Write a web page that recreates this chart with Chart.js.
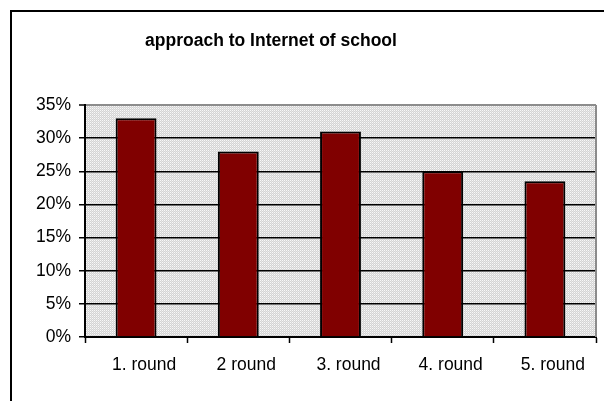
<!DOCTYPE html>
<html>
<head>
<meta charset="utf-8">
<script src="https://cdn.jsdelivr.net/npm/chart.js@4"></script>
<style>
  html, body { margin: 0; padding: 0; background: #fff; overflow: hidden; }
  #wrap { position: relative; width: 604px; height: 401px; }
  #frame { position: absolute; left: 10px; top: 10px; width: 700px; height: 500px; border: 2px solid #000; }
  canvas { position: absolute; left: 0; top: 0; }
</style>
</head>
<body>
<div id="wrap">
  <div id="frame"></div>
  <canvas id="myChart" width="604" height="401"></canvas>
</div>
<script>
const chartTitle = 'approach to Internet of school';
const rounds = ['1. round', '2 round', '3. round', '4. round', '5. round'];
const shares = [33, 28, 31, 25, 23.5];
const yTicks = [0, 5, 10, 15, 20, 25, 30, 35];

const FONT = '"Liberation Sans", Arial, sans-serif';

// dotted grey fill for the plot area
function makePattern(ctx) {
    const c = document.createElement('canvas');
    c.width = 2;
    c.height = 2;
    const p = c.getContext('2d');
    p.fillStyle = '#d4d4d4';
    p.fillRect(0, 0, 2, 2);
    p.fillStyle = '#f8f8f8';
    p.fillRect(0, 0, 1, 1);
    p.fillStyle = '#e4e4e4';
    p.fillRect(1, 1, 1, 1);
    return ctx.createPattern(c, 'repeat');
}

const plotArea = {
    id: 'plotArea',
    beforeDraw(chart) {
        const { ctx, chartArea: a } = chart;
        ctx.save();
        ctx.fillStyle = makePattern(ctx);
        ctx.fillRect(a.left, a.top, a.right - a.left, a.bottom - a.top);
        ctx.restore();
    },
    afterDraw(chart) {
        const { ctx, chartArea: a } = chart;
        ctx.save();
        ctx.strokeStyle = '#8c8c8c';
        ctx.lineWidth = 2;
        ctx.beginPath();
        ctx.moveTo(a.right, a.top);
        ctx.lineTo(a.right, a.bottom);
        ctx.stroke();

        ctx.fillStyle = '#000';
        ctx.font = 'bold 17.5px ' + FONT;
        ctx.textAlign = 'center';
        ctx.textBaseline = 'middle';
        ctx.fillText(chartTitle, 271, 41);
        ctx.restore();
    }
};

const ctx = document.getElementById('myChart').getContext('2d');

new Chart(ctx, {
    type: 'bar',
    data: {
        labels: rounds,
        datasets: [{
            data: shares,
            backgroundColor: '#800000',
            borderColor: '#000',
            borderWidth: 2,
            barPercentage: 0.5,
            categoryPercentage: 0.8
        }]
    },
    options: {
        responsive: false,
        animation: false,
        layout: { padding: { left: 0, top: 105, right: 8, bottom: 0 } },
        plugins: {
            legend: { display: false },
            tooltip: { enabled: false },
            title: { display: false }
        },
        scales: {
            x: {
                grid: {
                    drawOnChartArea: false,
                    drawTicks: true,
                    tickLength: 6,
                    tickColor: '#000',
                    tickWidth: 1.5
                },
                border: { color: '#000', width: 2 },
                ticks: {
                    color: '#000',
                    font: { family: FONT, size: 17.5 },
                    padding: 12,
                    labelOffset: 8,
                    maxRotation: 0
                },
                afterFit(scale) { scale.height = 64; }
            },
            y: {
                min: 0,
                max: 35,
                afterBuildTicks(scale) {
                    scale.ticks = yTicks.map(v => ({ value: v }));
                },
                grid: {
                    color: c => (c.tick && c.tick.value === 35) ? '#8c8c8c' : '#000',
                    lineWidth: c => (c.tick && c.tick.value === 35) ? 2 : 1.5,
                    tickLength: 6,
                    tickColor: '#000',
                    tickWidth: 1.5
                },
                border: { color: '#000', width: 2 },
                ticks: {
                    color: '#000',
                    font: { family: FONT, size: 17.5 },
                    padding: 8,
                    callback: v => v + '%'
                },
                afterFit(scale) { scale.width = 85; }
            }
        }
    },
    plugins: [plotArea]
});
</script>
</body>
</html>
